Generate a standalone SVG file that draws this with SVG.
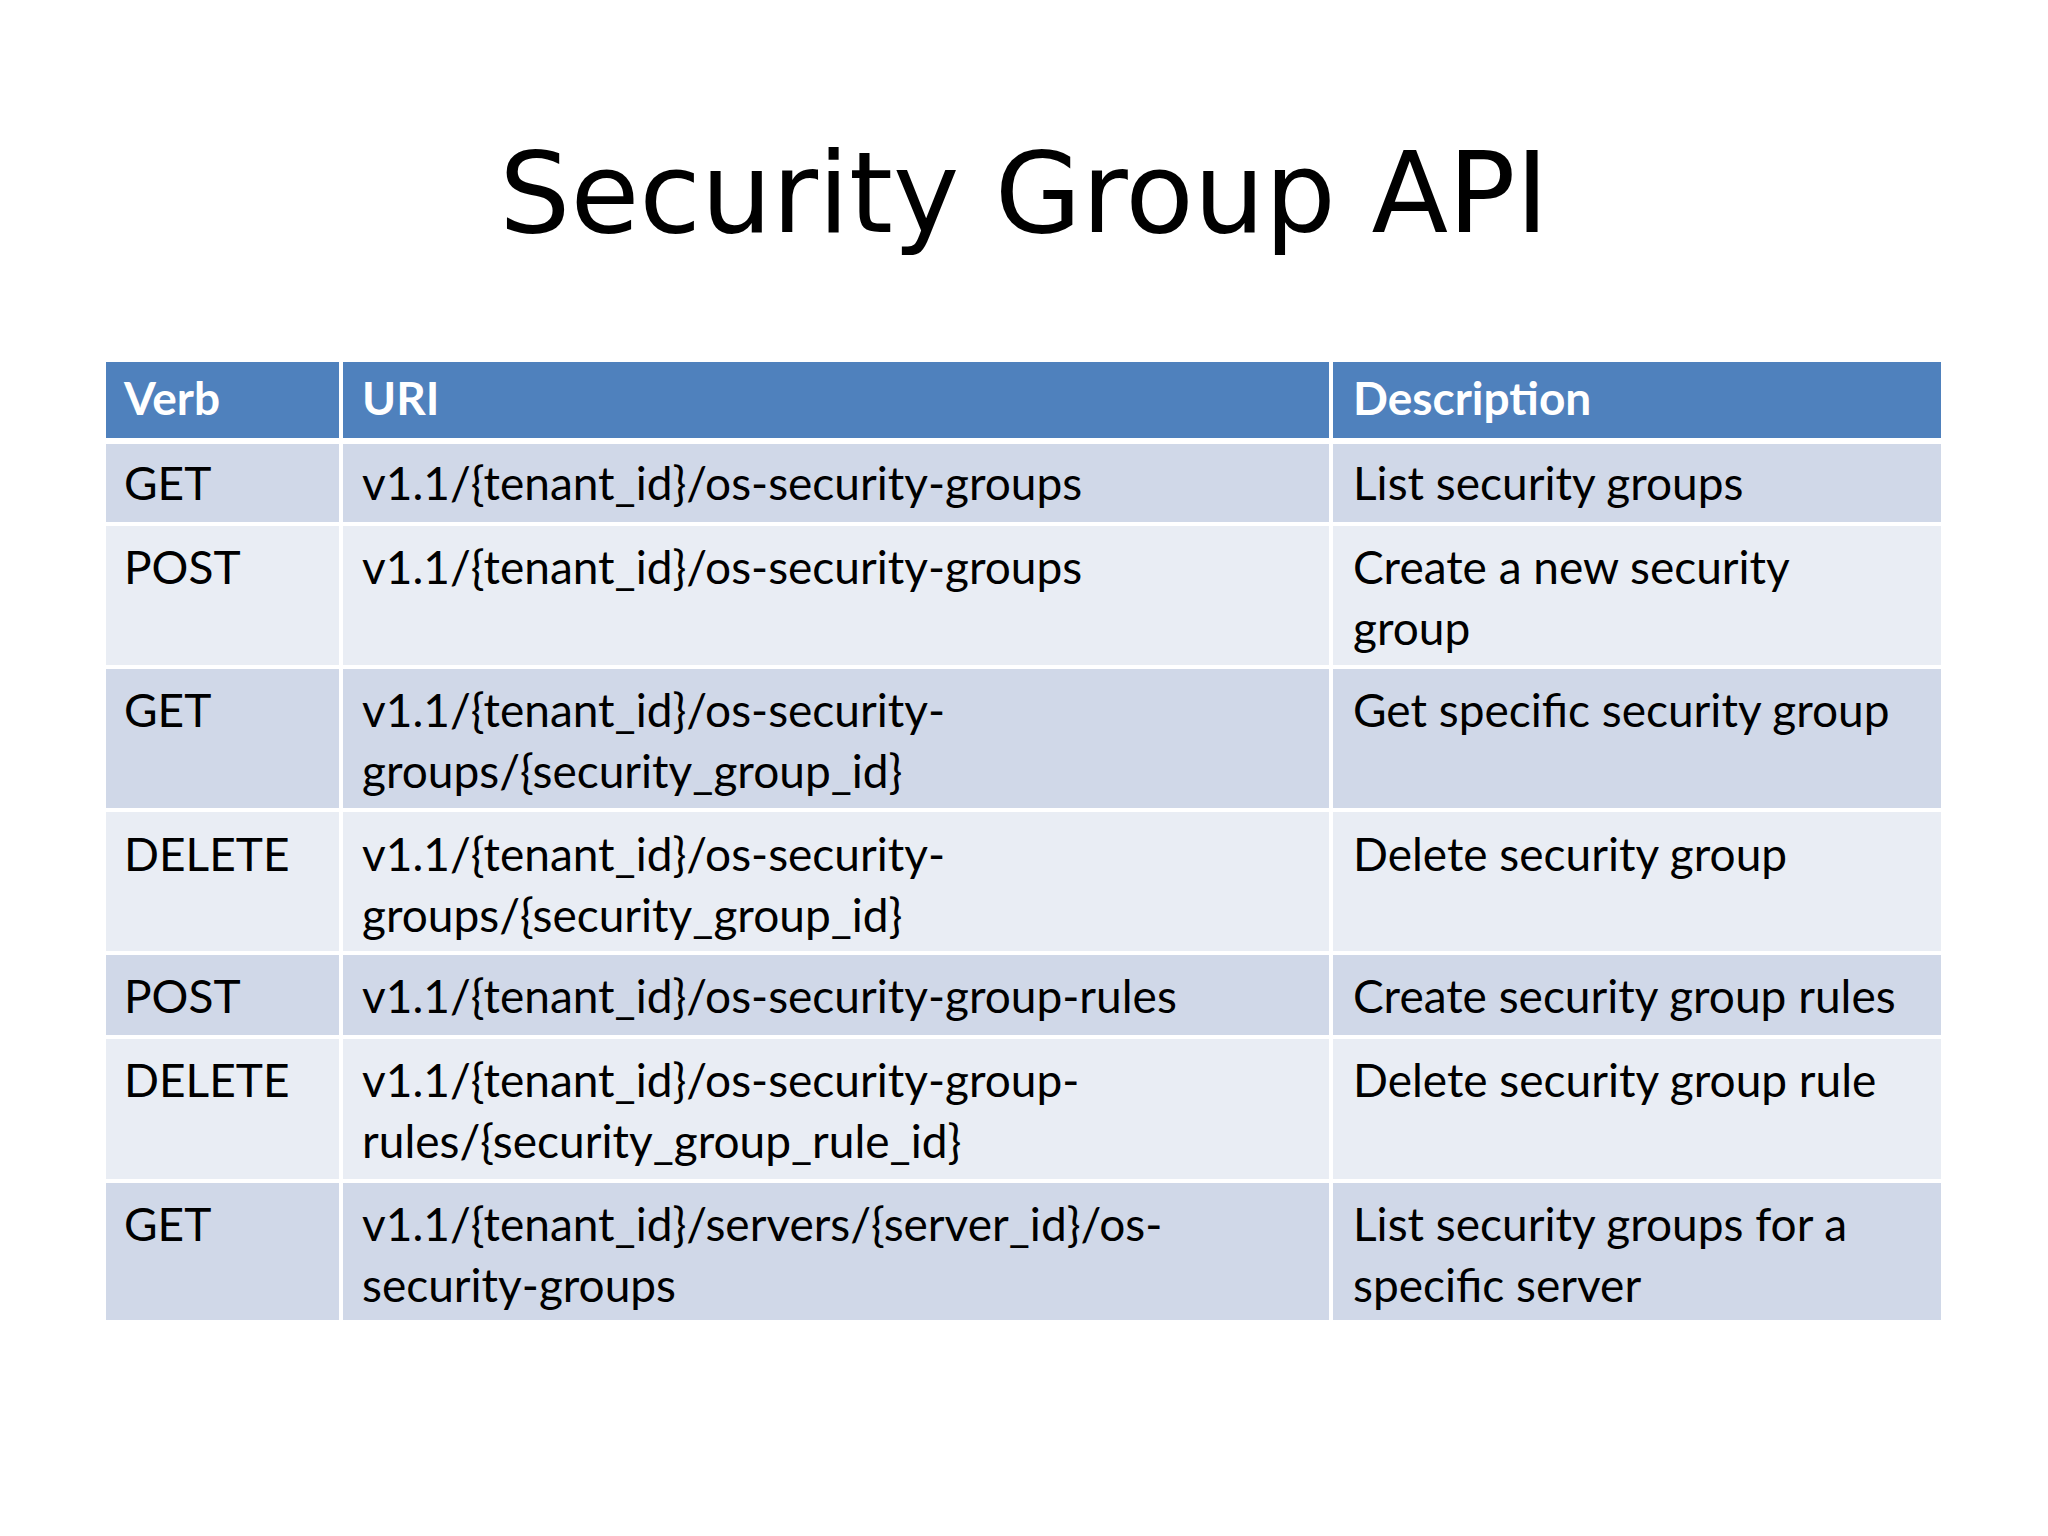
<svg xmlns="http://www.w3.org/2000/svg" width="2048" height="1536" viewBox="0 0 2048 1536">
<style>
.t{font-family:Lato,"Open Sans",sans-serif;font-size:46px;fill:#000}
.h{font-family:Lato,"Open Sans",sans-serif;font-size:46px;fill:#fff;font-weight:bold}
.a{fill:#D0D8E8;stroke:#fff;stroke-width:4}
.b{fill:#E9EDF4;stroke:#fff;stroke-width:4}
</style>
<rect width="2048" height="1536" fill="#fff"/>
<text x="1024" y="232" text-anchor="middle" font-family="DejaVu Sans,sans-serif" font-size="112">Security Group API</text>
<g id="header"><rect x="104" y="360" width="1839" height="80" fill="#4F81BD" stroke="#fff" stroke-width="4"/>
<text class="h" x="124" y="415">Verb</text><text class="h" x="362" y="415">URI</text><text class="h" x="1353" y="415">Description</text></g>
<g id="rows">
<rect class="a" x="104" y="442" width="1839" height="82"/>
<rect class="b" x="104" y="524" width="1839" height="143"/>
<rect class="a" x="104" y="667" width="1839" height="143"/>
<rect class="b" x="104" y="810" width="1839" height="143"/>
<rect class="a" x="104" y="953" width="1839" height="84"/>
<rect class="b" x="104" y="1037" width="1839" height="144"/>
<rect class="a" x="104" y="1181" width="1839" height="141"/>
<line x1="341" y1="360" x2="341" y2="1322" stroke="#fff" stroke-width="4"/>
<line x1="1331" y1="360" x2="1331" y2="1322" stroke="#fff" stroke-width="4"/>
</g>
<g id="text">
<text class="t" x="124" y="500">GET</text><text class="t" x="362" y="500">v1.1/{tenant_id}/os-security-groups</text><text class="t" x="1353" y="500">List security groups</text>
<text class="t" x="124" y="584">POST</text><text class="t" x="362" y="584">v1.1/{tenant_id}/os-security-groups</text><text class="t" x="1353" y="584">Create a new security</text><text class="t" x="1353" y="645">group</text>
<text class="t" x="124" y="727">GET</text><text class="t" x="362" y="727">v1.1/{tenant_id}/os-security-</text><text class="t" x="362" y="788">groups/{security_group_id}</text><text class="t" x="1353" y="727">Get specific security group</text>
<text class="t" x="124" y="871">DELETE</text><text class="t" x="362" y="871">v1.1/{tenant_id}/os-security-</text><text class="t" x="362" y="932">groups/{security_group_id}</text><text class="t" x="1353" y="871">Delete security group</text>
<text class="t" x="124" y="1013">POST</text><text class="t" x="362" y="1013">v1.1/{tenant_id}/os-security-group-rules</text><text class="t" x="1353" y="1013">Create security group rules</text>
<text class="t" x="124" y="1097">DELETE</text><text class="t" x="362" y="1097">v1.1/{tenant_id}/os-security-group-</text><text class="t" x="362" y="1158">rules/{security_group_rule_id}</text><text class="t" x="1353" y="1097">Delete security group rule</text>
<text class="t" x="124" y="1241">GET</text><text class="t" x="362" y="1241">v1.1/{tenant_id}/servers/{server_id}/os-</text><text class="t" x="362" y="1302">security-groups</text><text class="t" x="1353" y="1241">List security groups for a</text><text class="t" x="1353" y="1302">specific server</text>
</g>
</svg>
